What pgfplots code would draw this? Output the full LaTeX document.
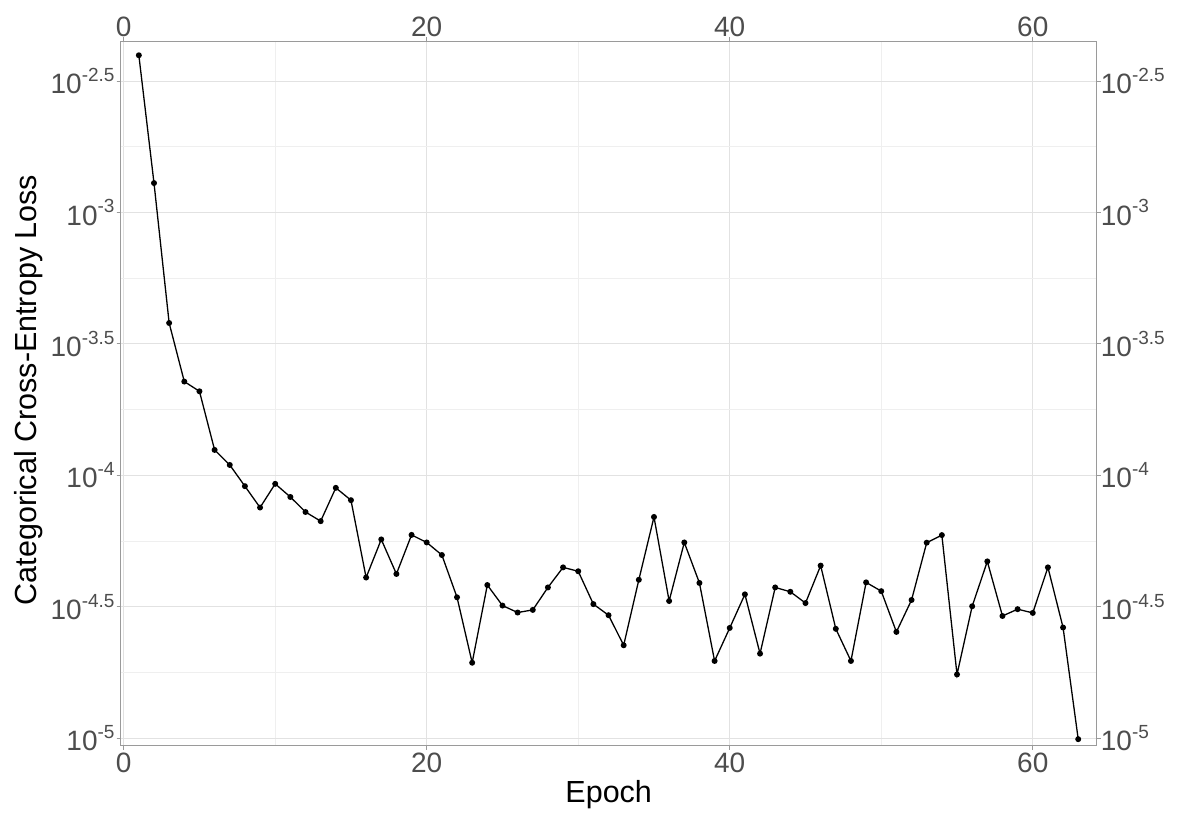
\documentclass[border=0pt]{standalone}
\usepackage{fontspec}
\setmainfont{Liberation Sans}
\usepackage{pgfplots}
\pgfplotsset{compat=1.18}
\definecolor{tickgray}{HTML}{4D4D4D}
\definecolor{bordergray}{HTML}{9A9A9A}
\definecolor{gridmajor}{HTML}{E2E2E2}
\definecolor{gridminor}{HTML}{EFEFEF}
\newcommand{\tl}[1]{10\raisebox{0.44em}{\fontsize{19}{19}\selectfont #1}}
\pgfplotsset{chartbase/.style={
  width=976pt, height=704.4pt, scale only axis,
  xmin=-0.198, xmax=64.22,
  ymin=9.376e-6, ymax=4.477e-3,
  xtick={0,20,40,60}, xticklabels={0,20,40,60},
  ytick={3.16227766e-3,1e-3,3.16227766e-4,1e-4,3.16227766e-5,1e-5},
  yticklabels={\tl{-2.5},\tl{-3},\tl{-3.5},\tl{-4},\tl{-4.5},\tl{-5}},
  tick align=outside, major tick length=4pt, minor tick length=0pt,
  tick style={bordergray, line width=1pt},
  axis line style={bordergray, line width=1.2pt},
  ticklabel style={font=\fontsize{28}{28}\selectfont, text=tickgray, inner sep=0pt},
  /pgf/number format/assume math mode=true,
}}
\begin{document}
\begin{tikzpicture}
\begin{axis}[ymode=log, chartbase, name=main,
  xtick pos=both, ytick pos=both,
  xticklabel pos=lower, yticklabel pos=left,
  xticklabel style={yshift=-3pt},
  yticklabel style={xshift=-2pt},
  grid=both,
  minor xtick={10,30,50},
  minor ytick={1.778279e-3,5.623413e-4,1.778279e-4,5.623413e-5,1.778279e-5},
  major grid style={gridmajor, line width=1pt},
  minor grid style={gridminor, line width=0.6pt},
  xlabel={Epoch}, ylabel={Categorical Cross-Entropy Loss},
  label style={font=\fontsize{30.5}{30.5}\selectfont, text=black, inner sep=0pt},
  xlabel style={at={(axis description cs:0.5,-0.0804)}, anchor=base},
  ylabel style={at={(axis description cs:-0.0798,0.505)}, anchor=south},
]
\addplot[black, line width=1.3pt, mark=*, mark size=2.3pt] coordinates {
(1,3.963e-3) (2,1.294e-3) (3,3.80e-4) (4,2.275e-4) (5,2.089e-4)
(6,1.250e-4) (7,1.096e-4) (8,9.10e-5) (9,7.55e-5) (10,9.29e-5)
(11,8.28e-5) (12,7.26e-5) (13,6.70e-5) (14,8.97e-5) (15,8.05e-5)
(16,4.09e-5) (17,5.71e-5) (18,4.22e-5) (19,5.94e-5) (20,5.56e-5)
(21,4.98e-5) (22,3.44e-5) (23,1.94e-5) (24,3.83e-5) (25,3.20e-5)
(26,3.01e-5) (27,3.08e-5) (28,3.75e-5) (29,4.47e-5) (30,4.32e-5)
(31,3.24e-5) (32,2.94e-5) (33,2.26e-5) (34,4.01e-5) (35,6.95e-5)
(36,3.33e-5) (37,5.56e-5) (38,3.90e-5) (39,1.97e-5) (40,2.63e-5)
(41,3.53e-5) (42,2.10e-5) (43,3.75e-5) (44,3.61e-5) (45,3.27e-5)
(46,4.54e-5) (47,2.61e-5) (48,1.97e-5) (49,3.92e-5) (50,3.63e-5)
(51,2.54e-5) (52,3.36e-5) (53,5.55e-5) (54,5.93e-5) (55,1.75e-5)
(56,3.18e-5) (57,4.71e-5) (58,2.92e-5) (59,3.10e-5) (60,3.00e-5)
(61,4.47e-5) (62,2.64e-5) (63,0.993e-5)
};
\end{axis}
\begin{axis}[ymode=log, chartbase,
  xtick pos=both, ytick pos=both,
  xticklabel pos=upper, yticklabel pos=right,
]
\end{axis}
\pgfresetboundingbox
\path[use as bounding box] ([xshift=-120.7pt,yshift=-67.3pt]main.south west) rectangle ([xshift=82.3pt,yshift=41.3pt]main.north east);
\end{tikzpicture}
\end{document}
